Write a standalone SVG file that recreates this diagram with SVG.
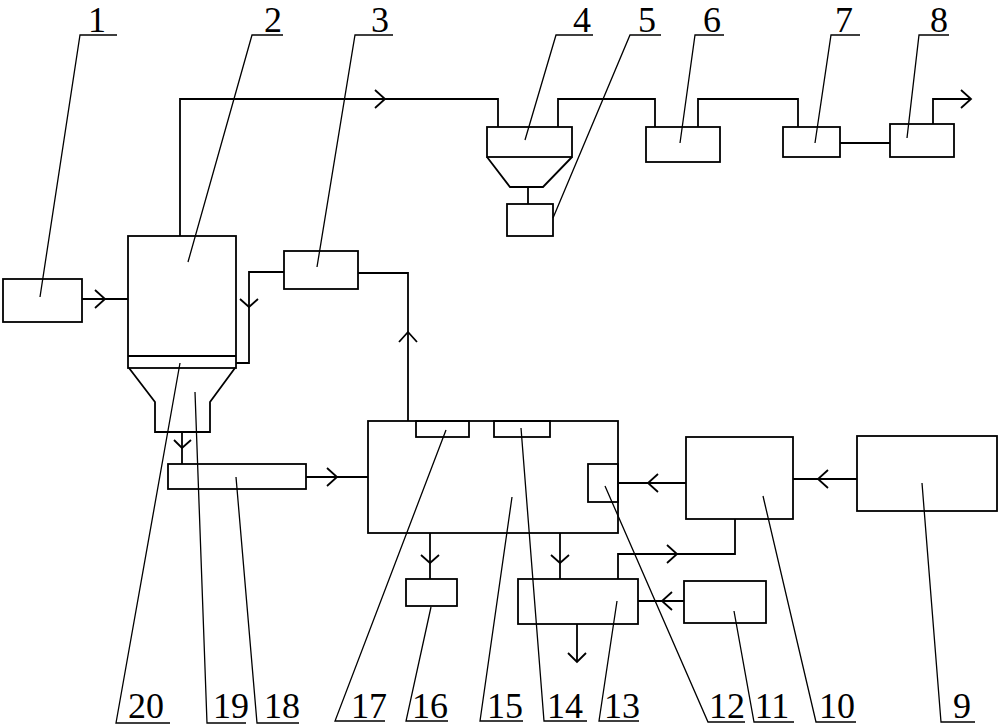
<svg xmlns="http://www.w3.org/2000/svg" width="1000" height="727" viewBox="0 0 1000 727">
<style>
.b{fill:none;stroke:#000;stroke-width:1.8}
.c{fill:none;stroke:#000;stroke-width:1.8}
.l{fill:none;stroke:#000;stroke-width:1.3}
.t{font-family:"Liberation Serif",serif;font-size:36px;fill:#000;text-anchor:middle}
</style>
<rect width="1000" height="727" fill="#fff"/>
<g id="n1"><rect class="b" x="3" y="279" width="79" height="43"/></g>
<g id="n2"><rect class="b" x="128" y="236" width="108" height="132"/><line class="b" x1="128" y1="356" x2="236" y2="356"/>
<path class="b" d="M129,368 L155,402 L155,432 L210,432 L210,402 L235,368"/></g>
<g id="n3"><rect class="b" x="284" y="251" width="74" height="38"/></g>
<g id="n4"><rect class="b" x="487" y="127" width="85" height="30"/><path class="b" d="M487,157 L510,187 L543,187 L572,157"/></g>
<g id="n5"><rect class="b" x="507" y="204" width="46" height="32"/></g>
<g id="n6"><rect class="b" x="646" y="127" width="74" height="35"/></g>
<g id="n7"><rect class="b" x="783" y="127" width="57" height="30"/></g>
<g id="n8"><rect class="b" x="890" y="124" width="64" height="33"/></g>
<g id="n9"><rect class="b" x="857" y="436" width="140" height="75"/></g>
<g id="n10"><rect class="b" x="686" y="437" width="107" height="82"/></g>
<g id="n11"><rect class="b" x="684" y="581" width="82" height="42"/></g>
<g id="n13"><rect class="b" x="518" y="579" width="120" height="45"/></g>
<g id="n15"><rect class="b" x="368" y="421" width="250" height="112"/></g>
<g id="n17"><rect class="b" x="416" y="421" width="53" height="16"/></g>
<g id="n14"><rect class="b" x="494" y="421" width="56" height="16"/></g>
<g id="n12"><rect class="b" x="588" y="464" width="30" height="38"/></g>
<g id="n16"><rect class="b" x="406" y="579" width="51" height="27"/></g>
<g id="n18"><rect class="b" x="168" y="464" width="138" height="25"/></g>
<g id="connectors">
<path class="c" d="M82,299 H128"/><path class="c" d="M95,290 L105,299 L95,308"/>
<path class="c" d="M180,236 V99 H498 V127"/><path class="c" d="M375,90 L385,99 L375,108"/>
<path class="c" d="M558,127 V99 H655 V127"/>
<path class="c" d="M698,127 V99 H798 V127"/>
<path class="c" d="M840,143 H890"/>
<path class="c" d="M933,124 V99 H971"/><path class="c" d="M961,90 L971,99 L961,108"/>
<path class="c" d="M528,187 V204"/>
<path class="c" d="M408,421 V273 H358"/><path class="c" d="M399,342 L408,332 L417,342"/>
<path class="c" d="M284,272 H249 V363 H236"/><path class="c" d="M240,299 L249,307 L258,299"/>
<path class="c" d="M182,432 V464"/><path class="c" d="M174,440 L182,448 L191,440"/>
<path class="c" d="M306,477 H368"/><path class="c" d="M327,468 L337,477 L327,486"/>
<path class="c" d="M430,533 V579"/><path class="c" d="M421,555 L430,563 L439,555"/>
<path class="c" d="M560,533 V579"/><path class="c" d="M551,555 L560,563 L569,555"/>
<path class="c" d="M577,624 V662"/><path class="c" d="M568,653 L577,662 L586,653"/>
<path class="c" d="M857,479 H793"/><path class="c" d="M828,470 L818,479 L828,488"/>
<path class="c" d="M686,483 H618"/><path class="c" d="M658,474 L648,483 L658,492"/>
<path class="c" d="M735,519 V554 H618 V579"/><path class="c" d="M667,545 L677,554 L667,563"/>
<path class="c" d="M684,601 H638"/><path class="c" d="M672,592 L662,601 L672,610"/>
</g>
<g id="labels">
<text class="t" x="97" y="32">1</text><path class="l" d="M117,35 H80 L40,297"/>
<text class="t" x="273" y="32">2</text><path class="l" d="M283,35 H252 L188,262"/>
<text class="t" x="380" y="32">3</text><path class="l" d="M393,35 H355 L317,267"/>
<text class="t" x="582" y="32">4</text><path class="l" d="M593,35 H556 L525,140"/>
<text class="t" x="647" y="32">5</text><path class="l" d="M661,35 H630 L553,218"/>
<text class="t" x="712" y="32">6</text><path class="l" d="M724,35 H695 L680,143"/>
<text class="t" x="844" y="32">7</text><path class="l" d="M860,35 H831 L815,143"/>
<text class="t" x="939" y="32">8</text><path class="l" d="M949,35 H919 L907,138"/>
<text class="t" x="962" y="718">9</text><path class="l" d="M975,722 H941 L922,483"/>
<text class="t" x="837" y="718">10</text><path class="l" d="M856,722 H816 L763,496"/>
<text class="t" x="772" y="718">11</text><path class="l" d="M794,722 H754 L734,611"/>
<text class="t" x="727" y="718">12</text><path class="l" d="M745,722 H708 L605,486"/>
<text class="t" x="622" y="718">13</text><path class="l" d="M639,721 H599 L617,601"/>
<text class="t" x="565" y="718">14</text><path class="l" d="M587,721 H544 L521,428"/>
<text class="t" x="505" y="718">15</text><path class="l" d="M523,721 H480 L512,497"/>
<text class="t" x="430" y="718">16</text><path class="l" d="M448,721 H406 L431,607"/>
<text class="t" x="369" y="718">17</text><path class="l" d="M385,721 H335 L446,430"/>
<text class="t" x="282" y="718">18</text><path class="l" d="M299,723 H257 L236,477"/>
<text class="t" x="231" y="718">19</text><path class="l" d="M246,723 H207 L195,392"/>
<text class="t" x="146" y="718">20</text><path class="l" d="M170,723 H116 L180,363"/>
</g>
</svg>
